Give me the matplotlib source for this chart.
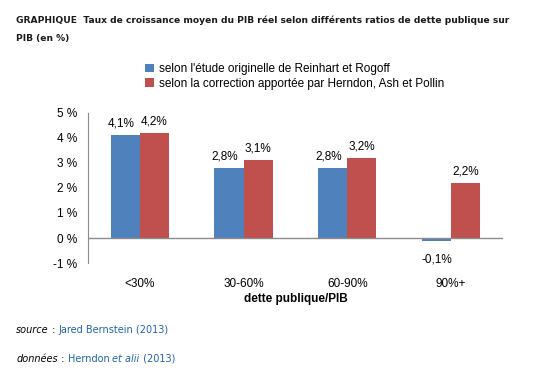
import matplotlib.pyplot as plt
import numpy as np

categories = ["<30%", "30-60%", "60-90%", "90%+"]
reinhart_rogoff = [4.1, 2.8, 2.8, -0.1]
herndon = [4.2, 3.1, 3.2, 2.2]
labels_rr = ["4,1%", "2,8%", "2,8%", "-0,1%"]
labels_h = ["4,2%", "3,1%", "3,2%", "2,2%"]
yticks = [-1, 0, 1, 2, 3, 4, 5]

blue = "#4F81BD"
red = "#C0504D"
link = "#2063B0"
fs = 8.5

fig = plt.figure(figsize=(5.46, 3.70), dpi=100)
ax = fig.add_axes([0.161, 0.289, 0.76, 0.406])

x = np.arange(len(categories))
w = 0.28
b1 = ax.bar(x - w / 2, reinhart_rogoff, w, color=blue, label="selon l'étude originelle de Reinhart et Rogoff")
b2 = ax.bar(x + w / 2, herndon, w, color=red, label="selon la correction apportée par Herndon, Ash et Pollin")

# value labels
for i in range(len(categories)):
    v = reinhart_rogoff[i]
    if v >= 0:
        ax.annotate(labels_rr[i], (x[i] - w / 2, v), xytext=(-3, 4), textcoords="offset points",
                    ha="center", va="bottom", fontsize=fs, family="Liberation Sans")
    else:
        ax.annotate(labels_rr[i], (x[i] - w / 2, v), xytext=(0, -9), textcoords="offset points",
                    ha="center", va="top", fontsize=fs, family="Liberation Sans")
    ax.annotate(labels_h[i], (x[i] + w / 2, herndon[i]), xytext=(0, 4), textcoords="offset points",
                ha="center", va="bottom", fontsize=fs, family="Liberation Sans")

ax.set_xlim(-0.5, len(categories) - 0.5)
ax.set_ylim(-1, 5)
ax.set_yticks(yticks)
ax.set_yticklabels([f"{t} %" for t in yticks], fontsize=fs, family="Liberation Sans")
ax.set_xticks(x)
ax.set_xticklabels(categories, fontsize=fs, family="Liberation Sans")
ax.tick_params(axis="both", length=0)
ax.tick_params(axis="x", pad=11)
ax.tick_params(axis="y", pad=8)
ax.axhline(0, color="#8C8C8C", lw=1)
for s in ["top", "right", "bottom"]:
    ax.spines[s].set_visible(False)
ax.spines["left"].set_color("#8C8C8C")
ax.set_xlabel("dette publique/PIB", fontsize=fs, fontweight="bold", family="Liberation Sans", labelpad=2)

fig.legend(handles=[b1, b2], loc="upper left", bbox_to_anchor=(0.255, 0.845), frameon=False,
           prop={"family": "Liberation Sans", "size": fs}, handlelength=0.75, handleheight=0.75,
           handletextpad=0.45, labelspacing=0.2, borderpad=0)

fig.text(0.03, 0.945, "GRAPHIQUE  Taux de croissance moyen du PIB réel selon différents ratios de dette publique sur",
         fontsize=6.6, fontweight="bold", color="#1a1a1a", va="center")
fig.text(0.03, 0.897, "PIB (en %)", fontsize=6.6, fontweight="bold", color="#1a1a1a", va="center")


# source lines: pieces of text set one after another
def chain(y, parts):
    prev = fig.text(0.03, y, parts[0][0], fontsize=7, va="baseline", **parts[0][1])
    for s, kw in parts[1:]:
        prev = fig.add_artist(plt.Annotation(s, xy=(1, 0), xycoords=prev, xytext=(0, 0),
                                             textcoords="offset points", fontsize=7,
                                             va="bottom", ha="left", **kw))
    return prev


chain(0.10, [("source", {"style": "italic"}), (" : ", {}), ("Jared Bernstein (2013)", {"color": link})])
chain(0.022, [("données", {"style": "italic"}), (" : ", {}), ("Herndon ", {"color": link}),
              ("et alii", {"color": link, "style": "italic"}), (" (2013)", {"color": link})])

fig.savefig("out.png", dpi=100)
